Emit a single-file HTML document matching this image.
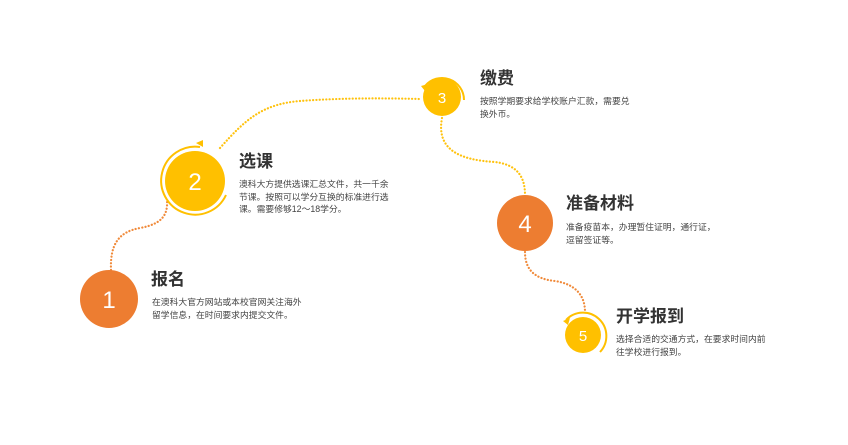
<!DOCTYPE html>
<html><head><meta charset="utf-8"><style>
body{margin:0;width:848px;height:445px;background:#fff;position:relative;overflow:hidden;font-family:"Liberation Sans","Noto Sans CJK SC",sans-serif}
.t{position:absolute;font-weight:bold;font-size:17px;color:#333;line-height:20px}
.d{position:absolute;font-size:8.8px;color:#444;line-height:12.5px;white-space:nowrap}
</style></head><body>
<svg width="848" height="445" style="position:absolute;left:0;top:0">
<g fill="none" stroke-width="2.2" stroke-dasharray="0.1 3.2" stroke-linecap="round">
<path d="M111 270 C110 245 118 232 140 228 C162 224 168 215 167 200" stroke="#F08A3A"/>
<path d="M220 148 C245 120 262 104 300 101 C340 98 380 98 420 99" stroke="#FFC20E"/>
<path d="M442 118 C436 150 460 160 495 162 C520 165 525 180 525 195" stroke="#FFC20E"/>
<path d="M525 252 C525 270 535 279 555 281 C575 284 585 295 585 312" stroke="#F08A3A"/>
</g>
<circle cx="109" cy="299" r="29" fill="#ED7D31"/>
<text x="109" y="308" font-size="24" fill="#fff" text-anchor="middle" font-family="Liberation Sans">1</text>
<circle cx="195" cy="181" r="30" fill="#FFC000"/>
<path d="M200 147 A34 34 0 1 0 226 195" fill="none" stroke="#FFC000" stroke-width="2"/>
<path d="M196 143 L203 140 L203 147Z" fill="#FFC000"/>
<text x="195" y="190" font-size="24" fill="#fff" text-anchor="middle" font-family="Liberation Sans">2</text>
<circle cx="442" cy="97" r="19" fill="#FFC000"/>
<path d="M425 86 A22 22 0 0 1 464 100" fill="none" stroke="#FFC000" stroke-width="2"/>
<path d="M421 86 L428 84 L425 91Z" fill="#FFC000"/>
<text x="442" y="103" font-size="15" fill="#fff" text-anchor="middle" font-family="Liberation Sans">3</text>
<circle cx="525" cy="223" r="28" fill="#ED7D31"/>
<text x="525" y="232" font-size="24" fill="#fff" text-anchor="middle" font-family="Liberation Sans">4</text>
<circle cx="583" cy="335" r="18" fill="#FFC000"/>
<path d="M566 320 A22 22 0 0 1 600 352" fill="none" stroke="#FFC000" stroke-width="2"/>
<path d="M563 321 L570 318 L568 325Z" fill="#FFC000"/>
<text x="583" y="341" font-size="15" fill="#fff" text-anchor="middle" font-family="Liberation Sans">5</text>
</svg>
<div class="t" style="left:151px;top:270px">报名</div>
<div class="d" style="left:152px;top:296px">在澳科大官方网站或本校官网关注海外<br>留学信息，在时间要求内提交文件。</div>
<div class="t" style="left:239px;top:152px">选课</div>
<div class="d" style="left:239px;top:178px">澳科大方提供选课汇总文件，共一千余<br>节课。按照可以学分互换的标准进行选<br>课。需要修够12～18学分。</div>
<div class="t" style="left:480px;top:69px">缴费</div>
<div class="d" style="left:480px;top:95px">按照学期要求给学校账户汇款，需要兑<br>换外币。</div>
<div class="t" style="left:566px;top:194px">准备材料</div>
<div class="d" style="left:566px;top:221px">准备疫苗本，办理暂住证明，通行证，<br>逗留签证等。</div>
<div class="t" style="left:616px;top:307px">开学报到</div>
<div class="d" style="left:616px;top:333px">选择合适的交通方式，在要求时间内前<br>往学校进行报到。</div>
</body></html>
